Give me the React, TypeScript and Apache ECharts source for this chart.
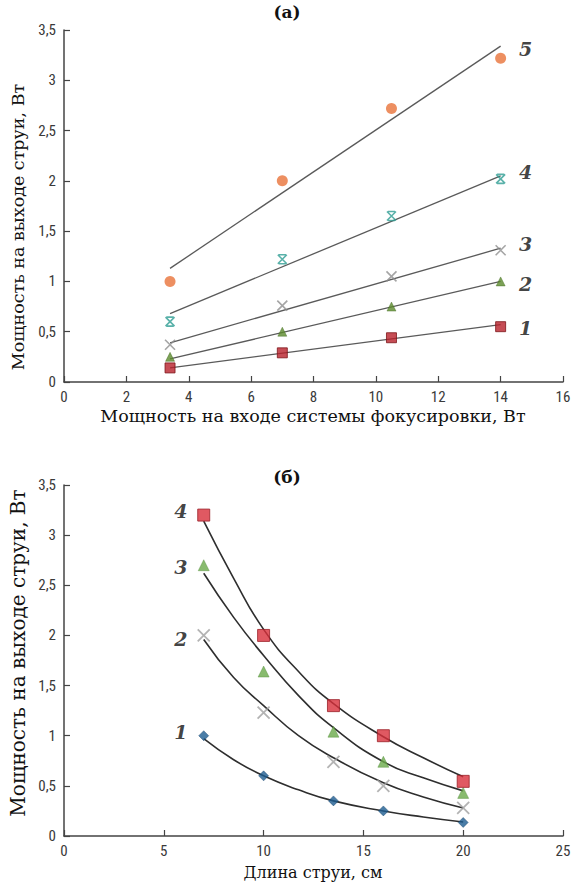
import React, { useEffect, useRef } from "react";
import * as echarts from "echarts";

// ---- Panel (а): input power vs output power ----
const topX = [3.4, 7, 10.5, 14];
const topS1 = [0.14, 0.29, 0.44, 0.55];
const topS2 = [0.25, 0.5, 0.75, 1.0];
const topS3 = [0.37, 0.76, 1.05, 1.31];
const topS4 = [0.6, 1.22, 1.65, 2.02];
const topS5 = [1.0, 2.0, 2.72, 3.22];
// linear trend lines, endpoints
const topTrendX = [3.4, 14];
const topT1 = [0.14, 0.57];
const topT2 = [0.23, 1.0];
const topT3 = [0.39, 1.33];
const topT4 = [0.68, 2.05];
const topT5 = [1.13, 3.34];
const topLabelX = 14.8;
const topLabelNames = ["1", "2", "3", "4", "5"];
const topLabelY = [0.54, 0.97, 1.37, 2.09, 3.31];

// ---- Panel (б): jet length vs output power ----
const botX = [7, 10, 13.5, 16, 20];
const botS1 = [1.0, 0.6, 0.35, 0.25, 0.135];
const botS2 = [2.0, 1.23, 0.74, 0.5, 0.28];
const botS3 = [2.7, 1.64, 1.04, 0.74, 0.43];
const botS4 = [3.2, 2.0, 1.3, 1.0, 0.545];
// fitted curves
const curveX = [7, 8.5, 10, 11.75, 13.5, 16, 18, 20];
const curve1 = [0.97, 0.76, 0.6, 0.46, 0.35, 0.25, 0.19, 0.14];
const curve2 = [1.96, 1.58, 1.3, 1.0, 0.78, 0.53, 0.39, 0.28];
const curve3 = [2.62, 2.18, 1.8, 1.4, 1.08, 0.74, 0.58, 0.45];
const curve4 = [3.14, 2.57, 2.06, 1.64, 1.32, 0.99, 0.78, 0.59];
const botLabelX = 5.85;
const botLabelNames = ["1", "2", "3", "4"];
const botLabelY = [1.04, 1.96, 2.68, 3.24];

const yTicks = { min: 0, max: 3.5, interval: 0.5 };

const zip = (xs: number[], ys: number[]) => xs.map((x, i) => [x, ys[i]]);

const CROSS = "path://M0,0L10,10M10,0L0,10";
const STAR = "path://M0,0L10,10M10,0L0,10M1,0L9,0M1,10L9,10";

const tickFont = {
  fontFamily: "'Liberation Sans Narrow', 'Roboto Condensed', Roboto, sans-serif",
  fontSize: 15,
  color: "#3a3a3a",
};
const serif = "'DejaVu Serif', 'Liberation Serif', serif";

function makeX(gridIndex: number, max: number, interval: number) {
  return {
    type: "value",
    gridIndex,
    min: 0,
    max,
    interval,
    axisLine: { show: true, lineStyle: { color: "#444", width: 1.5 } },
    axisTick: { show: true, inside: true, length: 6, lineStyle: { color: "#444", width: 1.2 } },
    axisLabel: { ...tickFont, margin: 7 },
    splitLine: { show: false },
  };
}
function makeY(gridIndex: number) {
  return {
    type: "value",
    gridIndex,
    ...yTicks,
    axisLine: { show: true, lineStyle: { color: "#444", width: 1.5 } },
    axisTick: { show: true, inside: true, length: 6, lineStyle: { color: "#444", width: 1.2 } },
    axisLabel: {
      ...tickFont,
      margin: 8,
      formatter: (v: number) => String(v).replace(".", ","),
    },
    splitLine: { show: false },
  };
}

function trend(idx: number, ys: number[], xs: number[], smooth: boolean, color: string, width: number) {
  return {
    type: "line",
    xAxisIndex: idx,
    yAxisIndex: idx,
    data: zip(xs, ys),
    smooth,
    symbol: "none",
    lineStyle: { color, width },
    z: 2,
    silent: true,
  };
}
function marks(idx: number, ys: number[], xs: number[], symbol: string, size: number, item: any) {
  return {
    type: "scatter",
    xAxisIndex: idx,
    yAxisIndex: idx,
    data: zip(xs, ys),
    symbol,
    symbolSize: size,
    itemStyle: item,
    z: 3,
  };
}
function labels(idx: number, x: number, names: string[], ys: number[]) {
  return {
    type: "scatter",
    xAxisIndex: idx,
    yAxisIndex: idx,
    data: names.map((n, i) => ({ name: n, value: [x, ys[i]] })),
    symbolSize: 1,
    itemStyle: { color: "rgba(0,0,0,0)" },
    label: {
      show: true,
      position: "inside",
      formatter: "{b}",
      fontFamily: serif,
      fontStyle: "italic",
      fontWeight: "bold",
      fontSize: 19,
      color: "#111",
    },
    z: 4,
  };
}

export default function App() {
  const ref = useRef<HTMLDivElement>(null);
  useEffect(() => {
    if (!ref.current) return;
    const chart = echarts.init(ref.current, null, { renderer: "svg" });
    const option: any = {
      animation: false,
      backgroundColor: "#ffffff",
      grid: [
        { left: 64, top: 30, width: 499, height: 352 },
        { left: 64, top: 485, width: 499, height: 351 },
      ],
      xAxis: [makeX(0, 16, 2), makeX(1, 25, 5)],
      yAxis: [makeY(0), makeY(1)],
      graphic: [
        { type: "text", x: 287, y: 12, style: { text: "(а)", font: `bold 17px ${serif}`, fill: "#111", align: "center", verticalAlign: "middle" } },
        { type: "text", x: 287, y: 477, style: { text: "(б)", font: `bold 17px ${serif}`, fill: "#111", align: "center", verticalAlign: "middle" } },
        { type: "text", x: 313, y: 416, style: { text: "Мощность на входе системы фокусировки, Вт", font: `17.5px ${serif}`, fill: "#111", align: "center", verticalAlign: "middle" } },
        { type: "text", x: 313, y: 872, style: { text: "Длина струи, см", font: `16px ${serif}`, fill: "#111", align: "center", verticalAlign: "middle" } },
        { type: "text", x: 18, y: 227, rotation: Math.PI / 2, style: { text: "Мощность на выходе струи, Вт", font: `17.5px ${serif}`, fill: "#111", align: "center", verticalAlign: "middle" } },
        { type: "text", x: 18, y: 653, rotation: Math.PI / 2, style: { text: "Мощность на выходе струи, Вт", font: `20px ${serif}`, fill: "#111", align: "center", verticalAlign: "middle" } },
      ],
      series: [
        trend(0, topT1, topTrendX, false, "#5a5a5a", 1.3),
        trend(0, topT2, topTrendX, false, "#5a5a5a", 1.3),
        trend(0, topT3, topTrendX, false, "#5a5a5a", 1.3),
        trend(0, topT4, topTrendX, false, "#5a5a5a", 1.3),
        trend(0, topT5, topTrendX, false, "#5a5a5a", 1.3),
        marks(0, topS1, topX, "rect", 10, { color: "#b8202a", borderColor: "#7d1519", borderWidth: 1 }),
        marks(0, topS2, topX, "triangle", 9, { color: "#5b8a2c", borderColor: "#3f6a1c", borderWidth: 0.5 }),
        marks(0, topS3, topX, CROSS, 10, { color: "rgba(0,0,0,0)", borderColor: "#8e8e8e", borderWidth: 1.6 }),
        marks(0, topS4, topX, STAR, 9, { color: "rgba(0,0,0,0)", borderColor: "#2f9e93", borderWidth: 1.6 }),
        marks(0, topS5, topX, "circle", 11, { color: "#e8733a" }),
        labels(0, topLabelX, topLabelNames, topLabelY),

        trend(1, curve1, curveX, true, "#2e2e2e", 1.6),
        trend(1, curve2, curveX, true, "#2e2e2e", 1.6),
        trend(1, curve3, curveX, true, "#2e2e2e", 1.6),
        trend(1, curve4, curveX, true, "#2e2e2e", 1.6),
        marks(1, botS1, botX, "diamond", 10, { color: "#1d5c91", borderColor: "#123d63", borderWidth: 0.5 }),
        marks(1, botS2, botX, CROSS, 12, { color: "rgba(0,0,0,0)", borderColor: "#a0a0a0", borderWidth: 1.8 }),
        marks(1, botS3, botX, "triangle", 11, { color: "#6aaa4a", borderColor: "#4d8a34", borderWidth: 0.5 }),
        marks(1, botS4, botX, "rect", 12, { color: "#d8303b", borderColor: "#9a1f27", borderWidth: 1 }),
        labels(1, botLabelX, botLabelNames, botLabelY),
      ],
    };
    chart.setOption(option);
    return () => chart.dispose();
  }, []);
  return (
    <div
      ref={ref}
      style={{ position: "absolute", left: 0, top: 0, width: 578, height: 885, background: "#fff" }}
    />
  );
}
